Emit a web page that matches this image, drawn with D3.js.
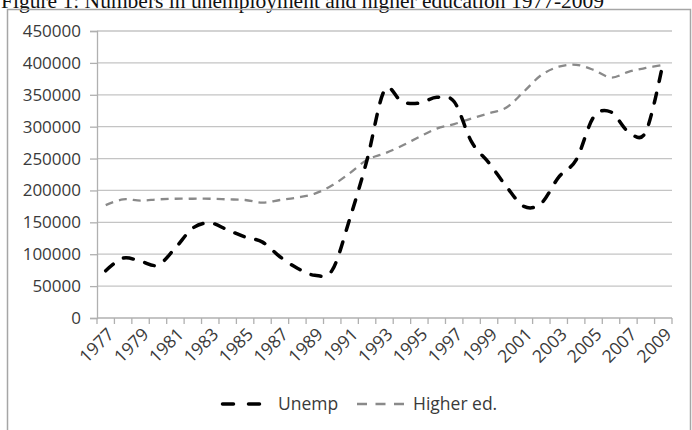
<!DOCTYPE html>
<head>
  <meta charset="utf-8">
  <script src="https://d3js.org/d3.v7.min.js"></script>
  <style>
    body { margin:0; background:#fff; overflow:hidden; }
  </style>
</head>
<body>
<script>

/* Data */
/* ==== */

var years = ['1977','1978','1979','1980','1981','1982','1983','1984','1985','1986','1987',
             '1988','1989','1990','1991','1992','1993','1994','1995','1996','1997','1998',
             '1999','2000','2001','2002','2003','2004','2005','2006','2007','2008','2009'];

var unemp = [74000, 94000, 89000, 83000, 110000, 141000, 149000, 138000, 127000, 119000, 96000,
             78000, 67000, 75000, 155000, 248000, 357000, 339000, 337000, 346000, 339000, 276000,
             243000, 206000, 175000, 180000, 221000, 248000, 315000, 323000, 292000, 292000, 402000];

var higherEd = [177000, 186000, 184000, 186000, 187000, 187000, 187000, 186000, 185000, 181000, 185000,
                189000, 195000, 208000, 227000, 248000, 258000, 270000, 284000, 297000, 304000, 313000,
                321000, 330000, 355000, 381000, 394000, 397000, 389000, 377000, 386000, 392000, 397000];

var yTicks = [0, 50000, 100000, 150000, 200000, 250000, 300000, 350000, 400000, 450000];
var labelYears = years.filter(function(d, i) { return i % 2 === 0; });

var series = [
  { name: 'Unemp', values: unemp, color: '#000', width: 3.5, dash: '10,12', cap: 'round' },
  { name: 'Higher ed.', values: higherEd, color: '#8a8a8a', width: 2.3, dash: '8,6', cap: 'butt' }
];

/* Set up */
/* ====== */

var width = 692, height = 430;
var plot = { left: 97, right: 672, top: 31, bottom: 318 };

var svg = d3.select('body').append('svg')
    .attr('width', width)
    .attr('height', height)
    .style('font-family', '"Open Sans", sans-serif');

// title, clipped at the top like the scan
svg.append('text')
    .attr('x', 1)
    .attr('y', 8)
    .attr('font-family', '"Liberation Serif", serif')
    .attr('font-size', 21.5)
    .attr('fill', '#111')
    .text('Figure 1: Numbers in unemployment and  higher education 1977-2009');

// chart frame
svg.append('path')
    .attr('d', 'M7.5,' + (height + 2) + 'V9.5H690.5V' + (height + 2))
    .attr('fill', 'none')
    .attr('stroke', '#a6a6a6')
    .attr('stroke-width', 1.5);

var x = d3.scaleBand()
    .domain(years)
    .range([plot.left, plot.right]);

var y = d3.scaleLinear()
    .domain([0, 450000])
    .range([plot.bottom, plot.top]);

// gridlines
svg.append('g')
  .selectAll('line')
    .data(yTicks.filter(function(d) { return d > 0; }))
    .enter().append('line')
    .attr('x1', plot.left)
    .attr('x2', plot.right)
    .attr('y1', function(d) { return y(d); })
    .attr('y2', function(d) { return y(d); })
    .attr('stroke', '#c4c4c4')
    .attr('stroke-width', 1.3);

// y axis
var yAxis = svg.append('g')
    .attr('transform', 'translate(' + plot.left + ',0)')
    .call(d3.axisLeft(y).tickValues(yTicks).tickSize(7).tickPadding(9).tickFormat(d3.format('d')));
yAxis.select('.domain').attr('stroke', '#b0b0b0').attr('stroke-width', 1.3);
yAxis.selectAll('.tick line').attr('stroke', '#b0b0b0').attr('stroke-width', 1.3);
yAxis.selectAll('.tick text')
    .attr('font-size', 17)
    .attr('font-family', '"Open Sans", sans-serif')
    .attr('fill', '#3a3a3a');

// x axis: ticks between categories, labels on every other year
var xg = svg.append('g');
xg.append('line')
    .attr('x1', plot.left).attr('x2', plot.right)
    .attr('y1', plot.bottom).attr('y2', plot.bottom)
    .attr('stroke', '#b0b0b0').attr('stroke-width', 1.3);
xg.selectAll('.xtick')
    .data(years.concat(['end']))
    .enter().append('line')
    .attr('class', 'xtick')
    .attr('x1', function(d) { return d === 'end' ? plot.right : x(d); })
    .attr('x2', function(d) { return d === 'end' ? plot.right : x(d); })
    .attr('y1', plot.bottom)
    .attr('y2', plot.bottom + 6)
    .attr('stroke', '#b0b0b0').attr('stroke-width', 1.3);
xg.selectAll('.xlab')
    .data(labelYears)
    .enter().append('text')
    .attr('class', 'xlab')
    .attr('transform', function(d) {
      return 'translate(' + (x(d) + x.bandwidth() / 2 + 5) + ',' + (plot.bottom + 13) + ') rotate(-45)';
    })
    .attr('text-anchor', 'end')
    .attr('dy', '0.35em')
    .attr('font-size', 17.5)
    .attr('fill', '#3a3a3a')
    .text(function(d) { return d; });

// lines (smoothed, like the spreadsheet)
var line = d3.line()
    .x(function(d, i) { return x(years[i]) + x.bandwidth() / 2; })
    .y(function(d) { return y(d); })
    .curve(d3.curveCardinal.tension(0));

svg.selectAll('.series')
    .data(series.slice().reverse())
    .enter().append('path')
    .attr('class', 'series')
    .attr('d', function(s) { return line(s.values); })
    .attr('fill', 'none')
    .attr('stroke', function(s) { return s.color; })
    .attr('stroke-width', function(s) { return s.width; })
    .attr('stroke-dasharray', function(s) { return s.dash; })
    .attr('stroke-linecap', function(s) { return s.cap; });

// legend
var legendX = [221, 357], legendY = 404;
var legend = svg.selectAll('.legend')
    .data(series)
    .enter().append('g')
    .attr('class', 'legend')
    .attr('transform', function(s, i) { return 'translate(' + legendX[i] + ',' + legendY + ')'; });
legend.append('line')
    .attr('x1', function(s, i) { return i === 0 ? 1.5 : 0; })
    .attr('x2', function(s, i) { return i === 0 ? 40 : 48; })
    .attr('stroke', function(s) { return s.color; })
    .attr('stroke-width', function(s) { return s.width; })
    .attr('stroke-dasharray', function(s, i) { return i === 0 ? '11,15' : '10,8.5'; })
    .attr('stroke-linecap', function(s) { return s.cap; });
legend.append('text')
    .attr('x', function(s, i) { return i === 0 ? 57 : 56; })
    .attr('dy', '0.35em')
    .attr('font-size', 17.5)
    .attr('fill', '#3a3a3a')
    .text(function(s) { return s.name; });

</script>
</body>
